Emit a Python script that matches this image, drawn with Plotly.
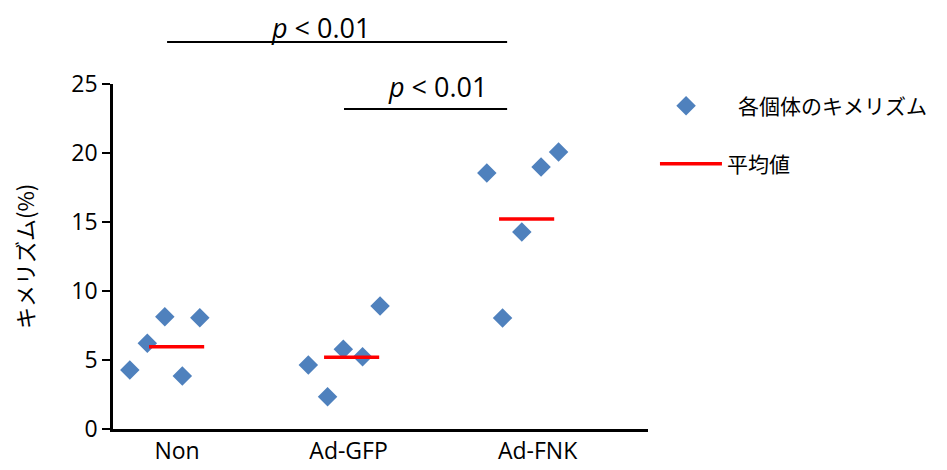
import plotly.graph_objects as go

categories = ["Non", "Ad-GFP", "Ad-FNK"]
non_vals = [4.28, 6.21, 8.14, 3.84, 8.07]
gfp_vals = [4.64, 2.34, 5.78, 5.24, 8.91]
fnk_vals = [18.55, 8.04, 14.28, 18.99, 20.07]
mean_vals = [5.96, 5.20, 15.22]
jitter = [
    [-0.27, -0.17, -0.07, 0.03, 0.13],
    [-0.25, -0.14, -0.05, 0.06, 0.16],
    [-0.23, -0.14, -0.03, 0.08, 0.18],
]
sig_label = "<i>p</i> &lt; 0.01"

group_vals = [non_vals, gfp_vals, fnk_vals]
Y_MAX = 25

fig = go.Figure()

xs, ys = [], []
for gi, vals in enumerate(group_vals):
    for j, v in zip(jitter[gi], vals):
        xs.append(gi + j)
        ys.append(v)

fig.add_trace(go.Scatter(
    x=xs, y=ys, mode="markers", name="各個体のキメリズム",
    marker=dict(symbol="diamond", size=15, color="#4F81BD"),
    showlegend=True, legend="legend",
))

mx, my = [], []
for gi, m in enumerate(mean_vals):
    mx += [gi - 0.16, gi + 0.155, None]
    my += [m, m, None]
fig.add_trace(go.Scatter(
    x=mx, y=my, mode="lines", name="平均値",
    line=dict(color="#FF0000", width=3.5),
    showlegend=True, legend="legend2",
))

# significance brackets (from group index to group index, value height)
brackets = [(0, 2, 28.04, 29.1), (1, 2, 23.19, 24.8)]
bracket_x = [(-0.057, 1.886, 0.817), (0.954, 1.886, 1.486)]
for (g0, g1, yl, yt), (x0, x1, xt) in zip(brackets, bracket_x):
    fig.add_shape(type="line", xref="x", yref="paper",
                  x0=x0, x1=x1, y0=yl / Y_MAX, y1=yl / Y_MAX,
                  line=dict(color="black", width=2))
    fig.add_annotation(xref="x", yref="paper", x=xt, y=yt / Y_MAX,
                       text=sig_label, showarrow=False,
                       xanchor="center", yanchor="middle",
                       font=dict(family="Open Sans", size=27, color="black"))

legend_font = dict(family="Noto Sans CJK JP", size=21)

fig.update_layout(
    width=939, height=462,
    showlegend=True,
    margin=dict(l=105, r=299, t=76, b=41),
    paper_bgcolor="white", plot_bgcolor="white",
    font=dict(family="Open Sans", size=23, color="black"),
    xaxis=dict(range=[-0.366, 2.691], showgrid=False, zeroline=False,
               showline=True, linecolor="black", linewidth=2.5,
               tickvals=[0.0, 0.98, 2.06], ticktext=categories, ticks="",
               tickfont=dict(size=23), automargin=False),
    yaxis=dict(range=[0, Y_MAX], dtick=5, showgrid=False, zeroline=False,
               showline=True, linecolor="black", linewidth=2.5,
               ticks="outside", ticklen=8, tickwidth=2, tickcolor="black",
               tickfont=dict(size=23), automargin=False,
               title=dict(text="キメリズム(%)", standoff=39,
                          font=dict(family="Noto Sans CJK JP", size=22))),
    legend=dict(x=0.974, y=0.936, xanchor="left", yanchor="middle",
                font=legend_font, bgcolor="rgba(0,0,0,0)", itemwidth=94),
    legend2=dict(x=1.013, y=0.768, xanchor="left", yanchor="middle",
                 font=legend_font, bgcolor="rgba(0,0,0,0)", itemwidth=62),
)

fig.write_html("out.html")
